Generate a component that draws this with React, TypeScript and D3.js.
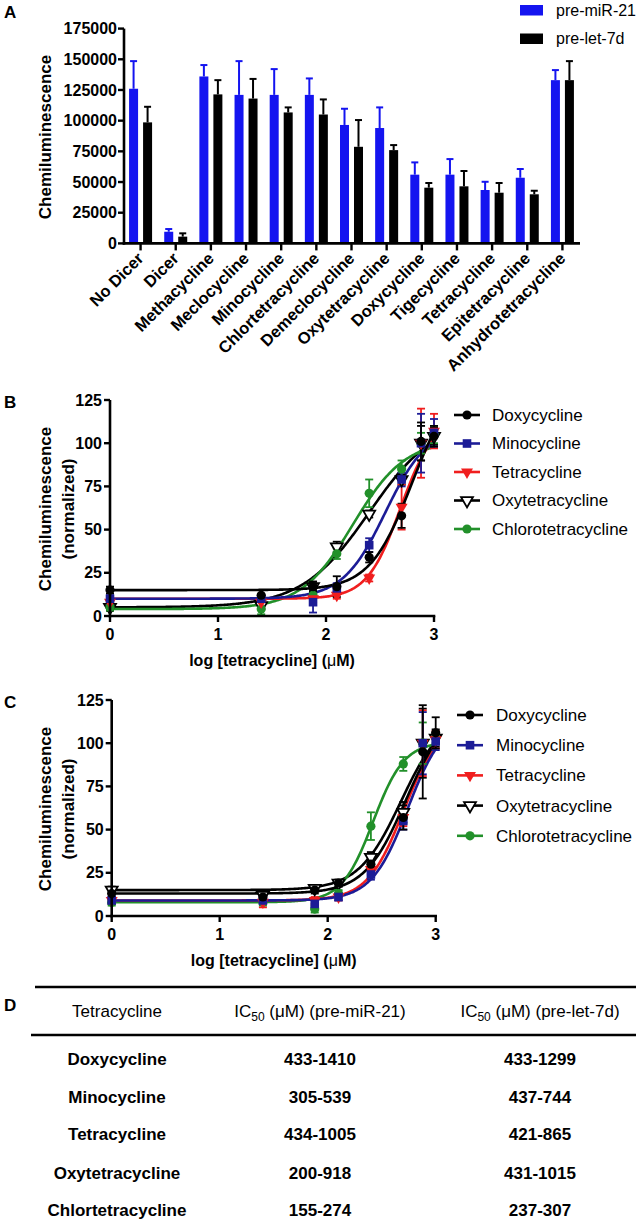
import React from 'react';
import * as d3 from 'd3';

// ---------- Panel A data ----------
const categories = ['No Dicer', 'Dicer', 'Methacycline', 'Meclocycline', 'Minocycline', 'Chlortetracycline', 'Demeclocycline', 'Oxytetracycline', 'Doxycycline', 'Tigecycline', 'Tetracycline', 'Epitetracycline', 'Anhydrotetracycline'];
const miR21Values = [126000, 9500, 136000, 121000, 121000, 121000, 96500, 94000, 56000, 56000, 43500, 53500, 133000];
const miR21Errors = [22500, 2200, 9300, 27500, 21000, 13400, 13200, 16800, 10000, 12700, 6700, 7100, 8200];
const let7dValues = [98600, 5500, 121400, 118000, 106700, 105000, 78700, 76000, 45400, 46500, 41300, 40000, 133000];
const let7dErrors = [12700, 2700, 11600, 16000, 4100, 12300, 21800, 4100, 3800, 12500, 7900, 2900, 15500];
const yTicksA = [0, 25000, 50000, 75000, 100000, 125000, 150000, 175000];
const legendA = ['pre-miR-21', 'pre-let-7d'];

// ---------- Panels B & C data ----------
const seriesNames = ['Doxycycline', 'Minocycline', 'Tetracycline', 'Oxytetracycline', 'Chlorotetracycline'];
const logConc = [0, 1.4, 1.88, 2.1, 2.4, 2.7, 2.88, 3];
const yTicksB = [0, 25, 50, 75, 100, 125];
const xTicksB = [0, 1, 2, 3];

const doxyB = [15, 12, 17, 17, 34, 58, 101, 104];
const doxyBErr = [2, 3, 3, 6, 3, 7, 11, 6];
const minoB = [10, 10, 8, 16, 41, 79, 100, 106];
const minoBErr = [2, 2, 6, 3, 4, 4, 17, 8];
const tetraB = [8, 8, 10, 12, 22, 63, 100, 107];
const tetraBErr = [2, 2, 2, 2, 2, 13, 20, 10];
const oxyB = [5, 6, 17, 40, 59, 79, 100, 104];
const oxyBErr = [2, 2, 2, 3, 2, 3, 10, 5];
const chloroB = [5, 4, 12, 36, 71, 85, 100, 105];
const chloroBErr = [2, 3, 2, 3, 8, 5, 6, 5];
// fitted curve parameters: [bottom, top, logIC50, hill]
const doxyFitB = [15, 140, 2.8, 2.2];
const minoFitB = [10, 110, 2.55, 2.2];
const tetraFitB = [10, 115, 2.69, 2.8];
const oxyFitB = [5, 115, 2.4, 1.4];
const chloroFitB = [4, 102, 2.25, 1.8];

const doxyC = [13, 11, 15, 19, 30, 57, 95, 106];
const doxyCErr = [3, 3, 2, 2, 3, 7, 27, 9];
const minoC = [9, 9, 7, 11, 24, 55, 100, 101];
const minoCErr = [2, 2, 3, 2, 3, 5, 18, 5];
const tetraC = [9, 8, 9, 11, 27, 57, 100, 102];
const tetraCErr = [2, 3, 2, 2, 3, 5, 19, 5];
const oxyC = [15, 12, 16, 19, 34, 60, 100, 103];
const oxyCErr = [2, 2, 2, 2, 3, 6, 20, 5];
const chloroC = [8, 8, 4, 13, 52, 88, 100, 103];
const chloroCErr = [2, 2, 2, 2, 8, 4, 12, 3];
const doxyFitC = [13, 120, 2.72, 2.3];
const minoFitC = [9, 115, 2.74, 2.6];
const tetraFitC = [9, 112, 2.7, 2.6];
const oxyFitC = [15, 118, 2.68, 2.2];
const chloroFitC = [8, 101, 2.42, 3.0];

// ---------- Panel D data ----------
const tableDrugs = ['Doxycycline', 'Minocycline', 'Tetracycline', 'Oxytetracycline', 'Chlortetracycline'];
const ic50miR21 = ['433-1410', '305-539', '434-1005', '200-918', '155-274'];
const ic50let7d = ['433-1299', '437-744', '421-865', '431-1015', '237-307'];

const FONT = "'Liberation Sans', Arial, Helvetica, sans-serif";
const BLUE_A = '#1414f0';
const COLORS = ['#000000', '#1c1c96', '#f01e1e', '#000000', '#22902a'];
const MARKERS = ['circle', 'square', 'triDown', 'triOpen', 'circle'];
const DRAW_ORDER = [3, 4, 2, 1, 0];

function Marker({ type, x, y, color }: { type: string; x: number; y: number; color: string }) {
  if (type === 'circle') return <circle cx={x} cy={y} r={4.6} fill={color} />;
  if (type === 'square') return <rect x={x - 4.3} y={y - 4.3} width={8.6} height={8.6} fill={color} />;
  const path = d3.symbol().type(d3.symbolTriangle).size(62)() as string;
  if (type === 'triDown')
    return <path d={path} transform={`translate(${x},${y}) rotate(180)`} fill={color} />;
  return <path d={path} transform={`translate(${x},${y}) rotate(180)`} fill="#fff" stroke={color} strokeWidth={1.8} />;
}

function fourPL(p: number[], x: number) {
  const [b, t, ic, h] = p;
  return b + (t - b) / (1 + Math.pow(10, (ic - x) * h));
}

function DosePanel({ top, axisX, label, values, errors, fits, legendX, legendTextX, legendY0, legendStep }: any) {
  const x = d3.scaleLinear().domain([0, 3]).range([axisX, axisX + 324]);
  const y = d3.scaleLinear().domain([0, 125]).range([top + 216, top]);
  const xs = d3.range(0, 3.0001, 0.01);
  const y0 = y(0);
  return (
    <g>
      <text x={4} y={top + 8} fontFamily={FONT} fontWeight="bold" fontSize={17}>{label}</text>
      {DRAW_ORDER.map((i) => {
        const p = fits[i];
        const line = d3.line<number>().x((d) => x(d)).y((d) => y(fourPL(p, d)));
        return <path key={'c' + i} d={line(xs) as string} fill="none" stroke={COLORS[i]} strokeWidth={2.6} />;
      })}
      {DRAW_ORDER.map((i) =>
        values[i].map((v: number, j: number) => {
          const e = errors[i][j];
          const cx = x(logConc[j]);
          return (
            <g key={'e' + i + '-' + j} stroke={COLORS[i]} strokeWidth={1.8}>
              <line x1={cx} x2={cx} y1={y(v - e)} y2={y(v + e)} />
              <line x1={cx - 4} x2={cx + 4} y1={y(v + e)} y2={y(v + e)} />
              <line x1={cx - 4} x2={cx + 4} y1={y(v - e)} y2={y(v - e)} />
            </g>
          );
        })
      )}
      {DRAW_ORDER.map((i) =>
        values[i].map((v: number, j: number) => <Marker key={'m' + i + '-' + j} type={MARKERS[i]} x={x(logConc[j])} y={y(v)} color={COLORS[i]} />)
      )}
      {/* axes */}
      <line x1={axisX} x2={axisX} y1={y(125)} y2={y0 + 1.3} stroke="#000" strokeWidth={2.6} />
      <line x1={axisX - 1.3} x2={x(3) + 1.3} y1={y0} y2={y0} stroke="#000" strokeWidth={2.6} />
      {yTicksB.map((t) => (
        <g key={'yt' + t}>
          <line x1={axisX - 6} x2={axisX} y1={y(t)} y2={y(t)} stroke="#000" strokeWidth={2.4} />
          <text x={axisX - 8} y={y(t)} dy="0.35em" textAnchor="end" fontFamily={FONT} fontWeight="bold" fontSize={16}>{t}</text>
        </g>
      ))}
      {xTicksB.map((t) => (
        <g key={'xt' + t}>
          <line x1={x(t)} x2={x(t)} y1={y0} y2={y0 + 6} stroke="#000" strokeWidth={2.4} />
          <text x={x(t)} y={y0 + 24} textAnchor="middle" fontFamily={FONT} fontWeight="bold" fontSize={16}>{t}</text>
        </g>
      ))}
      <text x={axisX + 162} y={y0 + 50} textAnchor="middle" fontFamily={FONT} fontWeight="bold" fontSize={16}>
        log [tetracycline] (<tspan fontWeight="normal">μ</tspan>M)
      </text>
      <g transform={`translate(0,${top + 109}) rotate(-90)`}>
        <text x={0} y={51} textAnchor="middle" fontFamily={FONT} fontWeight="bold" fontSize={17}>Chemiluminescence</text>
        <text x={0} y={74} textAnchor="middle" fontFamily={FONT} fontWeight="bold" fontSize={17}>(normalized)</text>
      </g>
      {/* legend */}
      {seriesNames.map((n, i) => {
        const ly = legendY0 + i * legendStep;
        return (
          <g key={'lg' + i}>
            <line x1={legendX} x2={legendX + 26} y1={ly} y2={ly} stroke={COLORS[i]} strokeWidth={2.6} />
            <Marker type={MARKERS[i]} x={legendX + 13} y={ly} color={COLORS[i]} />
            <text x={legendTextX} y={ly} dy="0.35em" fontFamily={FONT} fontSize={17}>{n}</text>
          </g>
        );
      })}
    </g>
  );
}

function PanelA() {
  const x = d3.scaleBand<string>().domain(categories).range([123, 580]);
  const y = d3.scaleLinear().domain([0, 175000]).range([243.4, 28.6]);
  const bw = 9;
  const y0 = y(0);
  return (
    <g>
      <text x={4} y={18} fontFamily={FONT} fontWeight="bold" fontSize={17}>A</text>
      {categories.map((c, i) => {
        const cx = (x(c) as number) + x.bandwidth() / 2;
        const bx = cx - 2.5 - bw;
        const kx = cx + 2.5;
        const bt = y(miR21Values[i]);
        const be = y(miR21Values[i] + miR21Errors[i]);
        const kt = y(let7dValues[i]);
        const ke = y(let7dValues[i] + let7dErrors[i]);
        return (
          <g key={c}>
            <line x1={bx + bw / 2} x2={bx + bw / 2} y1={bt} y2={be} stroke={BLUE_A} strokeWidth={2} />
            <line x1={bx + bw / 2 - 3.5} x2={bx + bw / 2 + 3.5} y1={be} y2={be} stroke={BLUE_A} strokeWidth={2} />
            <rect x={bx} y={bt} width={bw} height={y0 - bt} fill={BLUE_A} />
            <line x1={kx + bw / 2} x2={kx + bw / 2} y1={kt} y2={ke} stroke="#000" strokeWidth={2} />
            <line x1={kx + bw / 2 - 3.5} x2={kx + bw / 2 + 3.5} y1={ke} y2={ke} stroke="#000" strokeWidth={2} />
            <rect x={kx} y={kt} width={bw} height={y0 - kt} fill="#000" />
            <line x1={cx} x2={cx} y1={y0} y2={y0 + 7} stroke="#000" strokeWidth={2.4} />
            <text transform={`translate(${cx + 4},${y0 + 16}) rotate(-45)`} textAnchor="end" fontFamily={FONT} fontWeight="bold" fontSize={16.5}>{c}</text>
          </g>
        );
      })}
      <line x1={124} x2={124} y1={y(175000)} y2={y0 + 1.3} stroke="#000" strokeWidth={2.6} />
      <line x1={122.7} x2={580} y1={y0} y2={y0} stroke="#000" strokeWidth={2.6} />
      {yTicksA.map((t) => (
        <g key={t}>
          <line x1={118} x2={124} y1={y(t)} y2={y(t)} stroke="#000" strokeWidth={2.4} />
          <text x={117} y={y(t)} dy="0.35em" textAnchor="end" fontFamily={FONT} fontWeight="bold" fontSize={16}>{t}</text>
        </g>
      ))}
      <text transform={`translate(51,137) rotate(-90)`} textAnchor="middle" fontFamily={FONT} fontWeight="bold" fontSize={17}>Chemiluminescence</text>
      {legendA.map((l, i) => (
        <g key={l}>
          <rect x={520} y={5 + i * 28.5} width={23} height={10.5} fill={i === 0 ? BLUE_A : '#000'} />
          <text x={556} y={10.3 + i * 28.5} dy="0.35em" fontFamily={FONT} fontSize={16}>{l}</text>
        </g>
      ))}
    </g>
  );
}

function PanelD() {
  const cols = [117, 320, 540];
  const rowY = [1059, 1097, 1134, 1173, 1210];
  return (
    <g fontFamily={FONT}>
      <text x={4} y={1011} fontWeight="bold" fontSize={17}>D</text>
      <line x1={35} x2={636} y1={987} y2={987} stroke="#000" strokeWidth={2.6} />
      <line x1={31} x2={636} y1={1035} y2={1035} stroke="#000" strokeWidth={2.6} />
      <text x={cols[0]} y={1011} dy="0.35em" textAnchor="middle" fontSize={17}>Tetracycline</text>
      <text x={cols[1]} y={1011} dy="0.35em" textAnchor="middle" fontSize={17}>
        IC<tspan fontSize={12} dy={4}>50</tspan><tspan dy={-4}> (μM) (pre-miR-21)</tspan>
      </text>
      <text x={cols[2]} y={1011} dy="0.35em" textAnchor="middle" fontSize={17}>
        IC<tspan fontSize={12} dy={4}>50</tspan><tspan dy={-4}> (μM) (pre-let-7d)</tspan>
      </text>
      {tableDrugs.map((d, i) => (
        <g key={d} fontWeight="bold" fontSize={17}>
          <text x={cols[0]} y={rowY[i]} dy="0.35em" textAnchor="middle">{d}</text>
          <text x={cols[1]} y={rowY[i]} dy="0.35em" textAnchor="middle">{ic50miR21[i]}</text>
          <text x={cols[2]} y={rowY[i]} dy="0.35em" textAnchor="middle">{ic50let7d[i]}</text>
        </g>
      ))}
    </g>
  );
}

export default function App() {
  return (
    <svg width={642} height={1221} style={{ position: 'absolute', left: 0, top: 0, background: '#fff' }}>
      <rect width={642} height={1221} fill="#fff" />
      <PanelA />
      <DosePanel
        top={400}
        axisX={110}
        label="B"
        values={[doxyB, minoB, tetraB, oxyB, chloroB]}
        errors={[doxyBErr, minoBErr, tetraBErr, oxyBErr, chloroBErr]}
        fits={[doxyFitB, minoFitB, tetraFitB, oxyFitB, chloroFitB]}
        legendX={454}
        legendTextX={492}
        legendY0={415}
        legendStep={28.5}
      />
      <DosePanel
        top={700}
        axisX={111.7}
        label="C"
        values={[doxyC, minoC, tetraC, oxyC, chloroC]}
        errors={[doxyCErr, minoCErr, tetraCErr, oxyCErr, chloroCErr]}
        fits={[doxyFitC, minoFitC, tetraFitC, oxyFitC, chloroFitC]}
        legendX={457}
        legendTextX={496}
        legendY0={715}
        legendStep={30.2}
      />
      <PanelD />
    </svg>
  );
}
